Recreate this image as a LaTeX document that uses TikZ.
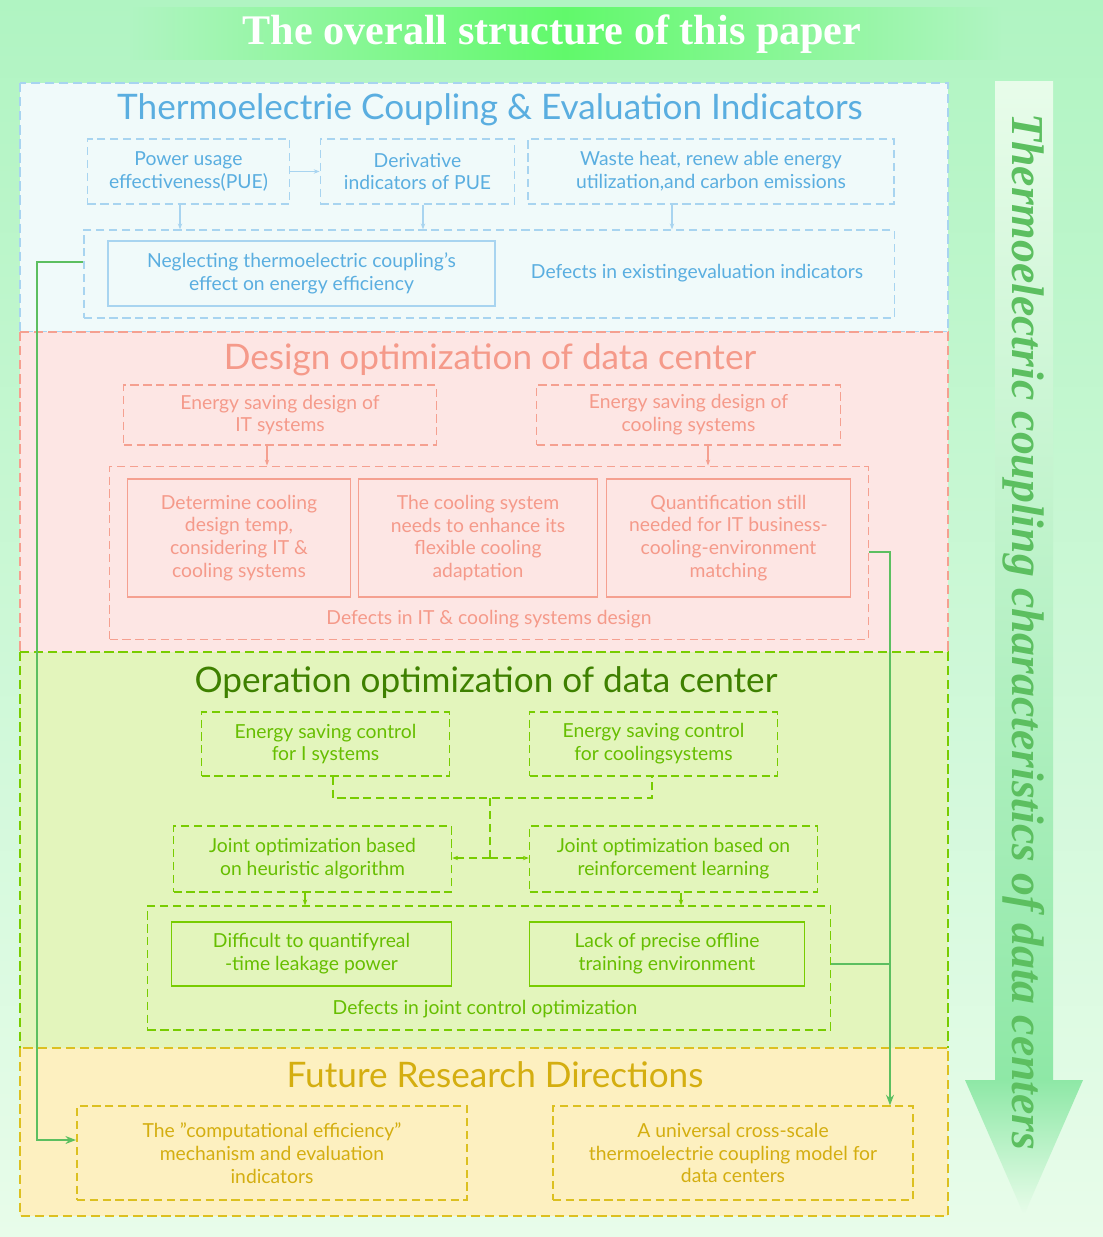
\documentclass[tikz,border=0pt]{standalone}
\usepackage{fontspec}
\setmainfont{Lato}
\newfontfamily\serifbf{Liberation Serif}
\usetikzlibrary{arrows.meta,positioning}
\definecolor{bgtop}{HTML}{B0F4C2}
\definecolor{bgbot}{HTML}{E8FCEA}
\definecolor{tefill}{HTML}{F0FAFA}
\definecolor{teline}{HTML}{A8D4F0}
\definecolor{tetext}{HTML}{5AAEE0}
\definecolor{dofill}{HTML}{FDE6E4}
\definecolor{doline}{HTML}{F5A090}
\definecolor{dotext}{HTML}{F59A8A}
\definecolor{oofill}{HTML}{E3F5BC}
\definecolor{ooline}{HTML}{78CC00}
\definecolor{ootext}{HTML}{3E8000}
\definecolor{oobox}{HTML}{66BE00}
\definecolor{frfill}{HTML}{FDF0C0}
\definecolor{frline}{HTML}{DCC020}
\definecolor{frtext}{HTML}{D4AE10}
\definecolor{linkgreen}{HTML}{5CBF60}
\definecolor{sidegreen}{HTML}{8EE8A6}
\tikzset{
  px/.style={x=0.03cm,y=-0.03cm},
  wh/.style 2 args={inner sep=0pt,minimum width=#1*0.85pt,minimum height=#2*0.85pt},
  section/.style={line width=2pt,dash pattern=on 8pt off 4pt},
  dbox/.style={line width=1.4pt,dash pattern=on 7pt off 4pt},
  sbox/.style={line width=1.4pt},
  btext/.style={font=\fontsize{16.5}{19.5}\selectfont,align=center},
  stitle/.style={font=\fontsize{30}{34}\selectfont},
  arr/.style={-{Stealth[length=5pt]},line width=0.9pt},
  link/.style={-{Stealth[length=9pt]},line width=2.4pt,linkgreen}
}
\begin{document}
\begin{tikzpicture}[px]
\useasboundingbox (0,0) rectangle (1103,1237);
% background
\shade[top color=bgtop,bottom color=bgbot] (0,0) rectangle (1103,1237);
\shade[left color=bgtop,right color=bgtop,middle color=green!45!bgtop] (130,8) rectangle (1000,60);
\node[font=\serifbf\bfseries\fontsize{36}{40}\selectfont,text=white] (title) at (552,34) {The overall structure of this paper};
% side arrow
\shade[top color=bgbot,bottom color=sidegreen] (995,82) rectangle (1053,1082);
\shade[top color=sidegreen,bottom color=bgbot] (965,1080) -- (1083,1080) -- (1024,1215) -- cycle;
\node[rotate=-90,font=\serifbf\bfseries\itshape\fontsize{39}{43}\selectfont,text=linkgreen] (side) at (1024,632) {Thermoelectric coupling characteristics of data centers};
% section 1
\fill[tefill] (20,83) rectangle (948,332);
\draw[section,teline] (20,83) rectangle (948,332);
\node[stitle,text=tetext] (t1) at (490,110) {Thermoelectrie Coupling \& Evaluation Indicators};
\begin{scope}[teline,text=tetext]
\node[dbox,draw,btext,wh={203}{65}] (pue) at (188.5,171.5) {Power usage\\effectiveness(PUE)};
\node[dbox,draw,btext,wh={195}{65}] (der) at (417.5,171.5) {Derivative\\indicators of PUE};
\node[dbox,draw,btext,wh={368}{65}] (waste) at (711,171.5) {Waste heat, renew able energy\\utilization,and carbon emissions};
\node[dbox,draw,wh={814}{88}] (def1) at (489,274) {};
\node[sbox,draw,btext,wh={389}{65}] (neg) at (301.5,273.5) {Neglecting thermoelectric coupling's\\effect on energy efficiency};
\node[btext] (def1t) at (697,273) {Defects in existingevaluation indicators};
\draw[arr] (pue) -- (der);
\draw[arr] (pue.south-|180,0) -- (def1.north-|180,0);
\draw[arr] (der.south-|423,0) -- (def1.north-|423,0);
\draw[arr] (waste.south-|672,0) -- (def1.north-|672,0);
\end{scope}
% section 2
\fill[dofill] (20,332) rectangle (948,652);
\draw[section,doline] (20,332) -- (948,332) -- (948,652);
\draw[section,doline] (20,332) -- (20,652);
\node[stitle,text=dotext] (t2) at (490,360) {Design optimization of data center};
\begin{scope}[doline,text=dotext]
\node[dbox,draw,btext,wh={314}{60}] (itd) at (280,415) {Energy saving design of\\IT systems};
\node[dbox,draw,btext,wh={305}{60}] (cod) at (688.5,415) {Energy saving design of\\cooling systems};
\node[dbox,draw,wh={762}{174}] (def2) at (489,553) {};
\node[sbox,draw,btext,wh={224}{118}] (temp) at (239,538) {Determine cooling\\design temp,\\considering IT \&\\cooling systems};
\node[sbox,draw,btext,wh={240}{118}] (flex) at (478,538) {The cooling system\\needs to enhance its\\flexible cooling\\adaptation};
\node[sbox,draw,btext,wh={245}{118}] (quan) at (728.5,538) {Quantification still\\needed for IT business-\\cooling-environment\\matching};
\node[btext] (def2t) at (489,619) {Defects in IT \& cooling systems design};
\draw[arr] (itd.south-|267,0) -- (def2.north-|267,0);
\draw[arr] (cod.south-|708,0) -- (def2.north-|708,0);
\end{scope}
% section 3
\fill[oofill] (20,652) rectangle (948,1048);
\draw[section,ooline] (20,652) -- (948,652) -- (948,1048);
\draw[section,ooline] (20,652) -- (20,1048);
\node[stitle,text=ootext] (t3) at (486,683) {Operation optimization of data center};
\begin{scope}[ooline,text=oobox]
\node[dbox,draw,btext,wh={249}{64}] (itc) at (325.5,744) {Energy saving control\\for I systems};
\node[dbox,draw,btext,wh={249}{64}] (coc) at (653.5,744) {Energy saving control\\for coolingsystems};
\node[dbox,draw,btext,wh={279}{66}] (heu) at (312.5,859) {Joint optimization based\\on heuristic algorithm};
\node[dbox,draw,btext,wh={289}{66}] (rl) at (673.5,859) {Joint optimization based on\\reinforcement learning};
\coordinate (jl) at (333,798);
\coordinate (jr) at (652,798);
\coordinate (jm) at (490,798);
\coordinate (jb) at (490,858);
\draw[dbox] (itc.south-|jl) -- (jl) -- (jr) -- (coc.south-|jr);
\draw[dbox] (jm) -- (jb);
\draw[dbox,-{Stealth[length=5pt]}] (jb) -- (heu.east|-jb);
\draw[dbox,-{Stealth[length=5pt]}] (jb) -- (rl.west|-jb);
\node[dbox,draw,wh={686}{124}] (def3) at (489,968) {};
\node[sbox,draw,btext,wh={281}{64}] (leak) at (311.5,954) {Difficult to quantifyreal\\-time leakage power};
\node[sbox,draw,btext,wh={276}{64}] (off) at (667,954) {Lack of precise offline\\training environment};
\node[btext] (def3t) at (485,1009) {Defects in joint control optimization};
\draw[arr] (heu.south-|305,0) -- (def3.north-|305,0);
\draw[arr] (rl.south-|681,0) -- (def3.north-|681,0);
\end{scope}
% section 4
\fill[frfill] (20,1048) rectangle (948,1216);
\draw[section,frline] (20,1048) rectangle (948,1216);
\node[stitle,text=frtext] (t4) at (495,1075) {Future Research Directions};
\begin{scope}[frline,text=frtext]
\node[dbox,draw,btext,wh={392}{94}] (ce) at (272,1153) {The \symbol{34}computational efficiency\symbol{34}\\mechanism and evaluation\\indicators};
\node[dbox,draw,btext,wh={362}{94}] (cs) at (733,1153) {A universal cross-scale\\thermoelectrie coupling model for\\data centers};
\end{scope}
% links
\coordinate (la) at (37,262);
\coordinate (lb) at (37,1140);
\coordinate (ra) at (890,552);
\coordinate (rb) at (890,964);
\draw[link] (def1.west|-la) -- (la) -- (lb) -- (ce.west|-lb);
\draw[link] (def2.east|-ra) -- (ra) -- (cs.north-|ra);
\draw[line width=2.4pt,linkgreen] (def3.east|-rb) -- (rb);
\end{tikzpicture}
\end{document}
